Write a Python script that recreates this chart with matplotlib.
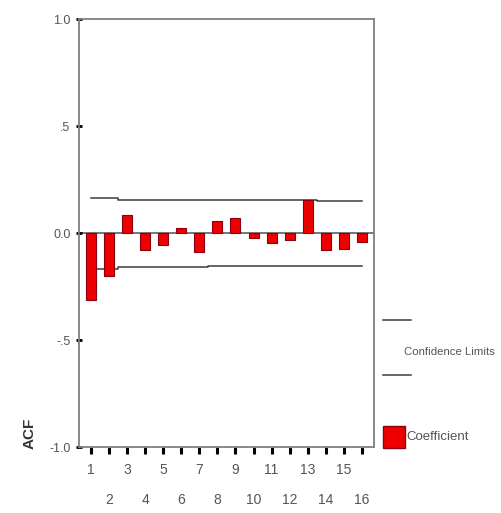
import matplotlib
matplotlib.use("Agg")
import matplotlib.pyplot as plt
from matplotlib.lines import Line2D
from matplotlib.patches import Rectangle

plt.rcParams['font.family'] = ['Liberation Sans Narrow', 'Liberation Sans', 'DejaVu Sans']

# autocorrelaciones por retardo
lags = list(range(1, 17))
acf = [-0.31, -0.20, 0.084, -0.078, -0.055, 0.027, -0.087, 0.058,
       0.070, -0.020, -0.047, -0.033, 0.156, -0.078, -0.075, -0.040]
# limites de confianza (modelo de independencia, decrecen con el retardo)
conf = [0.164, 0.164, 0.155, 0.155, 0.155, 0.155, 0.155, 0.154,
        0.154, 0.154, 0.154, 0.154, 0.154, 0.152, 0.152, 0.152]

ytick_vals = [-1.0, -0.5, 0.0, 0.5, 1.0]
ytick_labels = ["-1.0", "-.5", "0.0", ".5", "1.0"]

fig = plt.figure(figsize=(5.02, 5.13), dpi=100)
ax = fig.add_axes([0.157, 0.1277, 0.588, 0.8347])

line_col = "#3c3c3c"
ax.axhline(0, color="#606060", lw=1.2, zorder=1)

# limites como escalones centrados en cada retardo
xs, up, lo = [], [], []
for i, (l, c) in enumerate(zip(lags, conf)):
    x0 = l - 0.5 if i > 0 else l
    x1 = l + 0.5 if i < len(lags) - 1 else l
    xs += [x0, x1]
    up += [c, c]
    lo += [-c, -c]
ax.plot(xs, up, color=line_col, lw=1.1, zorder=2)
ax.plot(xs, lo, color=line_col, lw=1.1, zorder=2)

ax.bar(lags, acf, width=0.55, color="#ee0000", edgecolor="#8a0010", lw=0.8, zorder=3)

ax.set_xlim(0.34, 16.66)
ax.set_ylim(-1.0, 1.0)
ax.set_yticks(ytick_vals, ytick_labels)

# retardos impares y pares en dos filas
ax.set_xticks([l for l in lags if l % 2 == 1], [str(l) for l in lags if l % 2 == 1])
ax.set_xticks([l for l in lags if l % 2 == 0], [str(l) for l in lags if l % 2 == 0], minor=True)
ax.tick_params(axis="x", which="both", direction="out", length=5, width=2.2,
               color="black", labelsize=10, labelcolor="#555555")
ax.tick_params(axis="x", which="major", pad=6)
ax.tick_params(axis="x", which="minor", pad=28)
ax.tick_params(axis="y", direction="inout", length=4, width=2, color="black",
               labelsize=9, labelcolor="#555555", pad=4)

for s in ax.spines.values():
    s.set_color("#808080")
    s.set_linewidth(1.3)

fig.text(30 / 502, 1 - 433 / 513, "ACF", rotation=90, ha="center", va="center",
         fontsize=11, fontweight="bold", family=["Liberation Sans", "DejaVu Sans"],
         color="#333333")

# leyenda
fig.add_artist(Line2D([383 / 502, 411 / 502], [1 - 320 / 513, 1 - 320 / 513],
                      color=line_col, lw=1.1))
fig.add_artist(Line2D([383 / 502, 411 / 502], [1 - 375 / 513, 1 - 375 / 513],
                      color=line_col, lw=1.1))
fig.text(404 / 502, 1 - 352 / 513, "Confidence Limits", ha="left", va="center",
         fontsize=8.2, color="#555555")
fig.add_artist(Rectangle((383 / 502, 1 - 448 / 513), 22 / 502, 22 / 513,
                         transform=fig.transFigure, facecolor="#ee0000",
                         edgecolor="#8a0010", lw=1))
fig.text(406 / 502, 1 - 437 / 513, "Coefficient", ha="left", va="center",
         fontsize=9.5, color="#555555")

fig.savefig("out.png", dpi=100)
